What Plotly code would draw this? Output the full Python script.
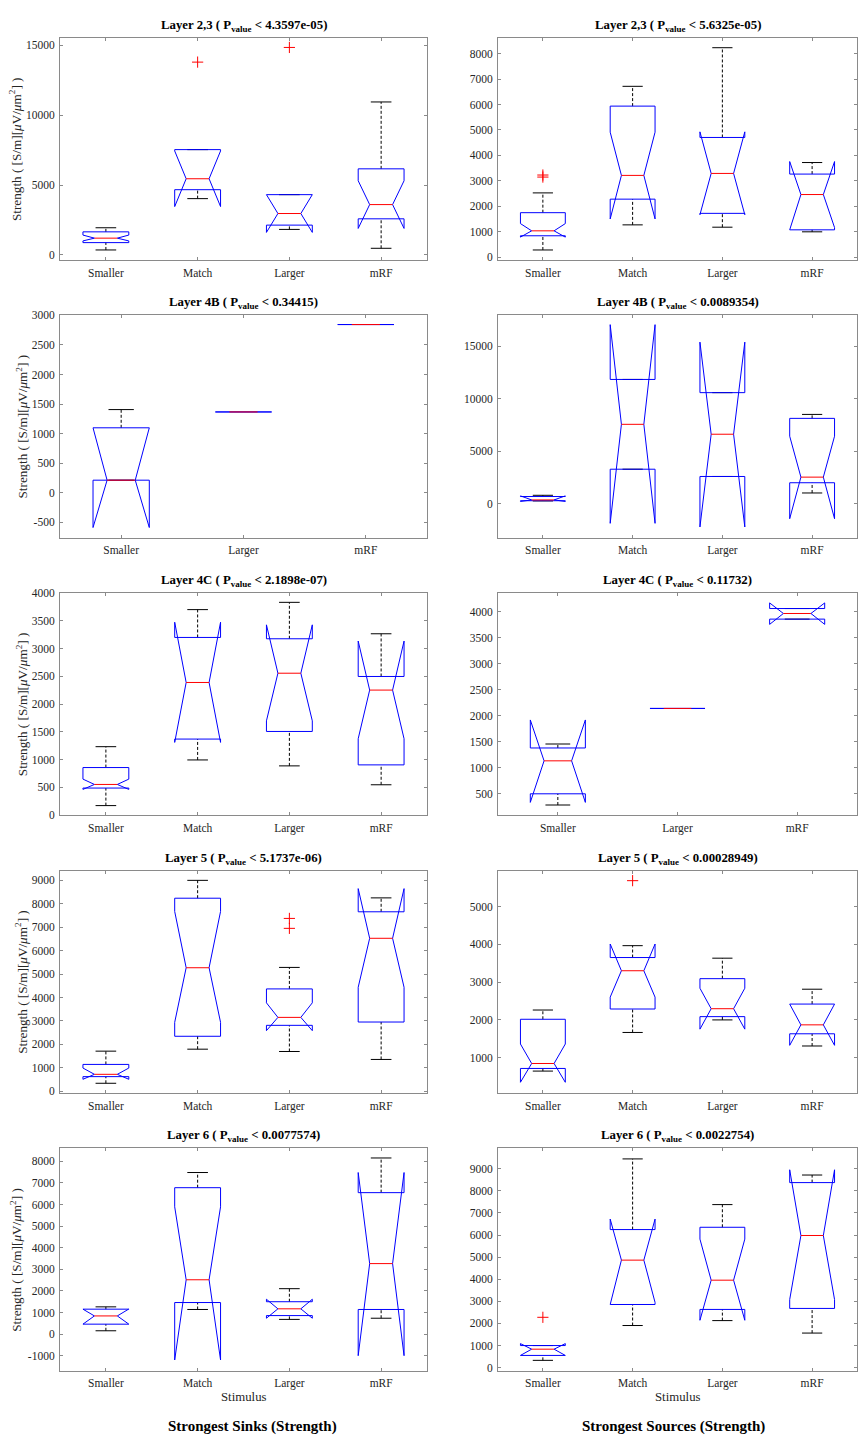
import plotly.graph_objects as go

# ---------------- data ----------------
CATS4 = ["Smaller", "Match", "Larger", "mRF"]
CATS3 = ["Smaller", "Larger", "mRF"]

# panels in reading order: (row1 L, row1 R, row2 L, row2 R, ...)
CATEGORIES = [CATS4, CATS4, CATS3, CATS4, CATS4, CATS3, CATS4, CATS4, CATS4, CATS4]
LAYERS = ["2,3", "2,3", "4B", "4B", "4C", "4C", "5", "5", "6", "6"]
PVALUES = ["4.3597e-05", "5.6325e-05", "0.34415", "0.0089354", "2.1898e-07",
           "0.11732", "5.1737e-06", "0.00028949", "0.0077574", "0.0022754"]

WHISKER_LO = [
    [355, 4028, 1825, 474],
    [285, 1271, 1180, 998],
    [213, 1367, 2845],
    [280, 3302, 2610, 1038],
    [173, 995, 888, 548],
    [285, 2139, 3854],
    [339, 1794, 1695, 1356],
    [641, 1665, 1998, 1306],
    [153, 1139, 680, 734],
    [327, 1904, 2127, 1562],
]
Q1 = [
    [880, 4668, 2133, 2583],
    [843, 2282, 1724, 1076],
    [213, 1367, 2845],
    [300, 3302, 2610, 2013],
    [489, 1371, 1508, 906],
    [500, 2139, 3854],
    [622, 2345, 2812, 2953],
    [711, 2287, 2085, 1630],
    [458, 1460, 856, 1139],
    [550, 2856, 2633, 2678],
]
MEDIAN = [
    [1200, 5450, 2962, 3602],
    [1037, 3215, 3293, 2463],
    [213, 1367, 2845],
    [377, 7579, 6635, 2547],
    [554, 2390, 2557, 2253],
    [1133, 2139, 3962],
    [721, 5270, 3151, 6527],
    [842, 3302, 2295, 1867],
    [840, 2514, 1169, 3263],
    [833, 4865, 3957, 5980],
]
Q3 = [
    [1650, 7536, 4313, 6161],
    [1750, 5938, 4706, 3267],
    [1099, 1367, 2845],
    [700, 11855, 10597, 8145],
    [858, 3201, 3177, 2498],
    [1380, 2139, 4057],
    [1144, 8237, 4366, 7658],
    [2015, 3652, 3092, 2418],
    [1154, 6777, 1498, 6548],
    [997, 6248, 6352, 8375],
]
WHISKER_HI = [
    [1943, 7536, 4313, 10948],
    [2528, 6716, 8233, 3721],
    [1407, 1367, 2845],
    [818, 11855, 10597, 8522],
    [1234, 3702, 3833, 3267],
    [1456, 2139, 4057],
    [1710, 9000, 5284, 8251],
    [2260, 3967, 3635, 2812],
    [1261, 7480, 2102, 8153],
    [997, 9447, 7379, 8718],
]
NOTCH_LO = [
    [1000, 3460, 1611, 1896],
    [790, 1504, 1672, 1166],
    [-588, 1367, 2845],
    [230, -1855, -2201, -1415],
    [465, 1311, 1699, 1377],
    [335, 2139, 3753],
    [509, 2939, 2585, 4436],
    [344, 2602, 1753, 1324],
    [460, -1199, 734, -1000],
    [550, 2950, 2142, 3079],
]
NOTCH_HI = [
    [1420, 7440, 4313, 5308],
    [1322, 4914, 4927, 3760],
    [1099, 1367, 2845],
    [760, 17075, 15409, 6447],
    [650, 3475, 3428, 3136],
    [1918, 2139, 4165],
    [989, 7672, 3772, 8647],
    [1359, 4011, 2838, 2418],
    [1160, 5891, 1612, 7480],
    [1086, 6724, 5817, 8956],
]
OUTLIERS = [
    [[], [13800], [14850], []],
    [[3150, 3230], [], [], []],
    [[], [], []],
    [[], [], [], []],
    [[], [], [], []],
    [[], [], []],
    [[], [], [6951, 7375], []],
    [[], [5691], [], []],
    [[], [], [], []],
    [[2276], [], [], []],
]

Y_RANGES = [
    [-355, 15545], [-104, 8625],
    [-757, 3000], [-3208, 17956],
    [0, 4000], [89, 4354],
    [-71, 9410], [63, 5954],
    [-1688, 8596], [-134, 9923],
]
Y_TICKS = [
    [0, 5000, 10000, 15000],
    [0, 1000, 2000, 3000, 4000, 5000, 6000, 7000, 8000],
    [-500, 0, 500, 1000, 1500, 2000, 2500, 3000],
    [0, 5000, 10000, 15000],
    [0, 500, 1000, 1500, 2000, 2500, 3000, 3500, 4000],
    [500, 1000, 1500, 2000, 2500, 3000, 3500, 4000],
    [0, 1000, 2000, 3000, 4000, 5000, 6000, 7000, 8000, 9000],
    [1000, 2000, 3000, 4000, 5000],
    [-1000, 0, 1000, 2000, 3000, 4000, 5000, 6000, 7000, 8000],
    [0, 1000, 2000, 3000, 4000, 5000, 6000, 7000, 8000, 9000],
]
CAPTIONS = ["Strongest Sinks (Strength)", "Strongest Sources (Strength)"]
Y_LABEL = "Strength ( [S/m][<i>μ</i>V/<i>μ</i>m<sup>2</sup>] )"
X_LABEL = "Stimulus"

# ---------------- style / layout ----------------
W, H = 859, 1441
COL_X = [(60, 427), (498, 857)]
ROW_Y = [(32, 256), (312, 536), (592, 816), (872, 1096), (1152, 1376)]
BLUE = "rgb(0,0,255)"
RED = "rgb(255,0,0)"
AXC = "#8a8a8a"
TXT = "#262626"
FONT = "Liberation Serif, Times New Roman, serif"


def px_x(p):
    return p / W


def px_y(p):
    return 1 - p / H


fig = go.Figure()
annotations = []
layout_axes = {}

for i in range(10):
    row, col = divmod(i, 2)
    k = i + 1
    xname = "x" if k == 1 else f"x{k}"
    yname = "y" if k == 1 else f"y{k}"
    cats = CATEGORIES[i]
    n = len(cats)
    hw = 0.25 if n == 4 else 0.23

    bx, by, mx, my, wx, wy, cx, cy, ox, oy = ([] for _ in range(10))
    for j in range(n):
        c = j + 1
        lo, q1, md = WHISKER_LO[i][j], Q1[i][j], MEDIAN[i][j]
        q3, hi = Q3[i][j], WHISKER_HI[i][j]
        nl, nh = NOTCH_LO[i][j], NOTCH_HI[i][j]
        L, R = c - hw, c + hw
        bx += [L, L, c - hw / 2, L, L, R, R, c + hw / 2, R, R, L, None]
        by += [q3, nh, md, nl, q1, q1, nl, md, nh, q3, q3, None]
        mx += [c - hw / 2, c + hw / 2, None]
        my += [md, md, None]
        if hi > q3:
            wx += [c, c, None]
            wy += [q3, hi, None]
        if lo < q1:
            wx += [c, c, None]
            wy += [lo, q1, None]
        if not (lo == hi == md):
            cw = 0.45 * hw
            cx += [c - cw, c + cw, None, c - cw, c + cw, None]
            cy += [hi, hi, None, lo, lo, None]
        for v in OUTLIERS[i][j]:
            ox.append(c)
            oy.append(v)

    common = dict(xaxis=xname, yaxis=yname, showlegend=False, hoverinfo="skip")
    fig.add_trace(go.Scatter(x=cx, y=cy, mode="lines",
                             line=dict(color="black", width=1), **common))
    fig.add_trace(go.Scatter(x=wx, y=wy, mode="lines",
                             line=dict(color="black", width=1, dash="3px,2px"), **common))
    fig.add_trace(go.Scatter(x=bx, y=by, mode="lines",
                             line=dict(color=BLUE, width=1), **common))
    fig.add_trace(go.Scatter(x=mx, y=my, mode="lines",
                             line=dict(color=RED, width=1), **common))
    if ox:
        fig.add_trace(go.Scatter(x=ox, y=oy, mode="markers",
                                 marker=dict(symbol="cross-thin", size=8,
                                             line=dict(color=RED, width=1)),
                                 **common))

    x0, x1 = COL_X[col]
    y0, y1 = ROW_Y[row]
    axis_common = dict(
        ticks="inside", ticklen=3, tickwidth=1, tickcolor=AXC,
        showline=True, linecolor=AXC, linewidth=1, mirror="ticks",
        showgrid=False, zeroline=False, fixedrange=True,
        tickfont=dict(family=FONT, size=11.5, color=TXT),
    )
    layout_axes["xaxis" if k == 1 else f"xaxis{k}"] = dict(
        domain=[px_x(x0), px_x(x1)], anchor=yname,
        range=[0.5, n + 0.5], tickvals=list(range(1, n + 1)), ticktext=cats,
        ticklabelstandoff=2, **axis_common)
    layout_axes["yaxis" if k == 1 else f"yaxis{k}"] = dict(
        domain=[px_y(y1), px_y(y0)], anchor=xname,
        range=Y_RANGES[i], tickvals=Y_TICKS[i],
        ticktext=[str(t) for t in Y_TICKS[i]], ticklabelstandoff=2, **axis_common)

    # title
    annotations.append(dict(
        text=f"Layer {LAYERS[i]} ( P<sub>value</sub> &lt; {PVALUES[i]})",
        x=px_x((x0 + x1) / 2), y=px_y(y0 - 2), xref="paper", yref="paper",
        xanchor="center", yanchor="bottom", showarrow=False,
        font=dict(family=FONT, size=12.8, color="black", weight="bold")))

    # y label (left column only)
    if col == 0:
        maxlen = max(len(str(t)) for t in Y_TICKS[i])
        xc = x0 - 6 - maxlen * 5.75 - 9
        annotations.append(dict(
            text=Y_LABEL, textangle=-90,
            x=px_x(xc), y=px_y((y0 + y1) / 2), xref="paper", yref="paper",
            xanchor="center", yanchor="middle", showarrow=False,
            font=dict(family=FONT, size=13.2, color=TXT)))

    # x label (bottom row only)
    if row == 4:
        annotations.append(dict(
            text=X_LABEL, x=px_x((x0 + x1) / 2), y=px_y(1403),
            xref="paper", yref="paper", xanchor="center", yanchor="middle",
            showarrow=False, font=dict(family=FONT, size=12.8, color=TXT)))

CAPTION_X = [253, 673]
for col in range(2):
    annotations.append(dict(
        text=CAPTIONS[col], x=px_x(CAPTION_X[col]), y=px_y(1432),
        xref="paper", yref="paper", xanchor="center", yanchor="middle",
        showarrow=False, font=dict(family=FONT, size=15, color="black", weight="bold")))

fig.update_layout(
    width=W, height=H,
    margin=dict(l=0, r=0, t=0, b=0),
    paper_bgcolor="white", plot_bgcolor="white",
    showlegend=False,
    annotations=annotations,
    **layout_axes,
)

fig.write_html(
    "out.html",
    config={"displayModeBar": False},
    post_script="document.body.style.margin='0';document.body.style.overflow='hidden';",
)
